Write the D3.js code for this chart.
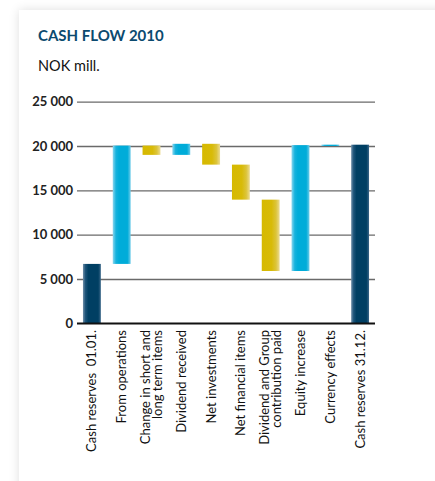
<!DOCTYPE html>
<html><head><meta charset="utf-8">
<script src="https://cdn.jsdelivr.net/npm/d3@7"></script>
<style>
html,body{margin:0;padding:0;background:#fff;width:435px;height:481px;overflow:hidden;}
#card{position:absolute;left:19px;top:10px;width:520px;height:560px;background:#fff;box-shadow:0 0 10px rgba(0,0,0,0.13);}
svg{position:absolute;left:0;top:0;}
</style></head><body>
<div id="card"></div>
<svg id="chart" width="435" height="481"></svg>
<script>
const categories = [
  ["Cash reserves  01.01."],
  ["From operations"],
  ["Change in short and", "long term items"],
  ["Dividend received"],
  ["Net investments"],
  ["Net financial items"],
  ["Dividend and Group", "contribution paid"],
  ["Equity increase"],
  ["Currency effects"],
  ["Cash reserves 31.12."]
];
// change per step (NOK mill.); first and last are totals
const changes = [6700, 13350, -1050, 1250, -2350, -3950, -8050, 14200, 50, 20150];
const kinds = ["total","step","step","step","step","step","step","step","step","total"];
const yTicks = [0, 5000, 10000, 15000, 20000, 25000];

// derived start/end for waterfall
let run = 0;
const bars = changes.map((c, i) => {
  let y0, y1;
  if (kinds[i] === "total") { y0 = 0; y1 = c; run = c; }
  else { y0 = run; y1 = run + c; run = y1; }
  return {i, y0, y1, c, kind: kinds[i]};
});

const svg = d3.select("#chart");
const defs = svg.append("defs");
function grad(id, stops){
  const g = defs.append("linearGradient").attr("id", id).attr("x1","0").attr("x2","1").attr("y1","0").attr("y2","0");
  stops.forEach(s => g.append("stop").attr("offset", s[0]).attr("stop-color", s[1]));
}
grad("gDark", [["0%","#6f8ea8"],["14%","#1d5479"],["30%","#003f63"],["85%","#003f63"],["100%","#3a6688"]]);
grad("gBlue", [["0%","#8ad6ee"],["18%","#16b2dd"],["35%","#00acd9"],["82%","#00acd9"],["100%","#6dcbe9"]]);
grad("gGold", [["0%","#d6b900"],["55%","#d8bb08"],["80%","#dcc43a"],["100%","#ecdc94"]]);

const x = d3.scaleBand().domain(d3.range(categories.length)).range([77, 375]).paddingInner(0.4).paddingOuter(0.2);
const y = d3.scaleLinear().domain([0, 25000]).range([323.3, 101.7]);

const fmt = d3.formatLocale({decimal: ",", thousands: " ", grouping: [3], currency: ["", ""]}).format(",d");
const FONT = "Lato, 'Open Sans', sans-serif";

// title
svg.append("text").attr("x", 38).attr("y", 41).text("CASH FLOW 2010")
  .attr("font-family", FONT).attr("font-weight", 700)
  .attr("font-size", 15).attr("fill", "#0b4a6f");
svg.append("text").attr("x", 38).attr("y", 71).text("NOK mill.")
  .attr("font-family", FONT).attr("font-size", 14.5).attr("fill", "#111");

// axis / grid
const axis = d3.axisLeft(y).tickValues(yTicks).tickFormat(d => fmt(d)).tickSizeInner(-298).tickSizeOuter(0).tickPadding(4);
const gA = svg.append("g").attr("transform", "translate(77,0)").call(axis);
gA.select(".domain").remove();
gA.selectAll(".tick line").attr("stroke", d => d === 0 ? "#111" : "#6a6a6a").attr("stroke-width", d => d === 0 ? 1.6 : 1.3);
gA.selectAll(".tick text").attr("font-family", FONT).attr("font-weight", 700)
  .attr("font-size", 13).attr("fill", "#222");

// bars
svg.append("g").selectAll("rect").data(bars).join("rect")
  .attr("x", d => x(d.i)).attr("width", x.bandwidth())
  .attr("y", d => y(Math.max(d.y0, d.y1)))
  .attr("height", d => Math.max(1.3, Math.abs(y(d.y0) - y(d.y1))))
  .attr("fill", d => d.kind === "total" ? "url(#gDark)" : (d.c >= 0 ? "url(#gBlue)" : "url(#gGold)"));

// baseline on top
svg.append("line").attr("x1", 77).attr("x2", 375).attr("y1", y(0)).attr("y2", y(0)).attr("stroke", "#111").attr("stroke-width", 1.6);

// category labels (rotated, end-aligned at top)
const lab = svg.append("g");
categories.forEach((lines, i) => {
  const cx = x(i) + x.bandwidth() / 2;
  const n = lines.length;
  lines.forEach((t, j) => {
    const off = (j - (n - 1) / 2) * 12.5;
    lab.append("text")
      .attr("transform", `translate(${cx + off + 4.5},330) rotate(-90)`)
      .attr("text-anchor", "end")
      .attr("font-family", FONT)
      .attr("font-size", 13).attr("fill", "#111")
      .style("white-space", "pre")
      .text(t);
  });
});
</script>
</body></html>
